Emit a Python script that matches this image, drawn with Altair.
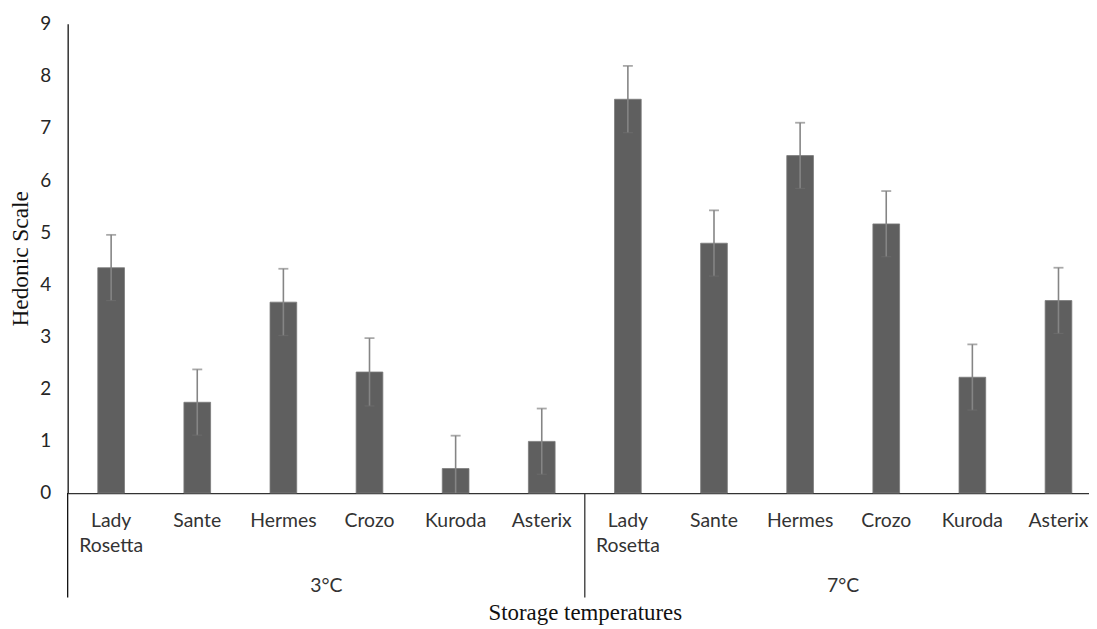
import altair as alt
import pandas as pd

# ---- data ----
varieties = ["Lady Rosetta", "Sante", "Hermes", "Crozo", "Kuroda", "Asterix"]
temperatures = ["3°C", "7°C"]
mean_3c = [4.32, 1.74, 3.66, 2.32, 0.47, 0.99]
mean_7c = [7.55, 4.79, 6.47, 5.16, 2.22, 3.69]
err_3c = [0.63, 0.63, 0.64, 0.65, 0.63, 0.63]
err_7c = [0.64, 0.63, 0.63, 0.63, 0.63, 0.63]
y_ticks = [0, 1, 2, 3, 4, 5, 6, 7, 8, 9]

rows = []
for temp, means, errs in ((temperatures[0], mean_3c, err_3c), (temperatures[1], mean_7c, err_7c)):
    for v, m, e in zip(varieties, means, errs):
        rows.append({"key": f"{temp}|{v}", "temp": temp, "variety": v,
                     "mean": m, "lo": max(m - e, 0.0), "hi": m + e, "lo_ok": m - e > 0})
df = pd.DataFrame(rows)
order = list(df["key"])

groups = pd.DataFrame({"key": [f"{t}|Hermes" for t in temperatures], "label": temperatures})
one = pd.DataFrame({"d": [0]})

SANS = "Lato"
SERIF = "Liberation Serif"

W, H = 1027, 472

xscale = alt.Scale(paddingInner=0.69, paddingOuter=0.2745, align=0.637, round=False)

x_axis = alt.Axis(
    title="Storage temperatures", titleFont=SERIF, titleFontSize=23, titleFontWeight="normal",
    titleColor="#111111", titleX=520, titleY=127, titleAlign="center", titleBaseline="alphabetic",
    labelExpr="split(split(datum.label, '|')[1], ' ')",
    labelFont=SANS, labelFontSize=19.5, labelColor="#333333", labelAngle=0,
    labelBaseline="top", labelPadding=19, labelLineHeight=25,
    ticks=False, tickSize=0, domainColor="#333333", domainWidth=1.3, grid=False,
)
y_axis = alt.Axis(
    title="Hedonic Scale", titleFont=SERIF, titleFontSize=23.5, titleFontWeight="normal",
    titleColor="#111111", titleX=-47, titleY=236, titleAngle=270, titleAlign="center",
    titleBaseline="middle",
    values=y_ticks, labelFont=SANS, labelFontSize=19, labelColor="#262626",
    labelPadding=17, ticks=False, tickSize=0, domainColor="#111111", domainWidth=1.3, grid=False,
)

X = alt.X("key:N", sort=order, scale=xscale, axis=x_axis)
yscale = alt.Scale(domain=[0, 9], nice=False, zero=True)

def Y(field):
    return alt.Y(field, scale=yscale, axis=y_axis)

bars = alt.Chart(df).mark_bar(color="#5f5f5f", stroke="#7a7a7a", strokeWidth=0.8).encode(
    x=X, y=Y("mean:Q")
)
err = alt.Chart(df).mark_rule(color="#858585", strokeWidth=1.6).encode(
    x=X, y=Y("lo:Q"), y2="hi:Q"
)
cap_hi = alt.Chart(df).mark_tick(color="#858585", size=10, thickness=1.8, orient="horizontal").encode(
    x=X, y=Y("hi:Q")
)
cap_lo = alt.Chart(df).transform_filter("datum.lo_ok").mark_tick(
    color="#6e6e6e", size=10, thickness=1.2, orient="horizontal"
).encode(x=X, y=Y("lo:Q"))
group_text = alt.Chart(groups).mark_text(
    font=SANS, fontSize=19.5, color="#333333", baseline="middle", align="center", dx=43.3
).encode(x=X, y=alt.value(566), text="label:N")

left_line = alt.Chart(one).mark_rule(color="#111111", strokeWidth=1.3).encode(
    x=alt.value(0), y=alt.value(H), y2=alt.value(H + 105)
)
mid_line = alt.Chart(one).mark_rule(color="#333333", strokeWidth=1.3).encode(
    x=alt.value(520), y=alt.value(H), y2=alt.value(H + 105)
)

chart = alt.layer(bars, err, cap_hi, cap_lo, group_text, left_line, mid_line).properties(
    width=W, height=H,
    autosize=alt.AutoSizeParams(type="none"),
    padding={"left": 60, "top": 14, "right": 0, "bottom": 134},
    background="white",
).configure_view(stroke=None)

chart.save("out.html", embed_options={"renderer": "svg", "actions": False})
